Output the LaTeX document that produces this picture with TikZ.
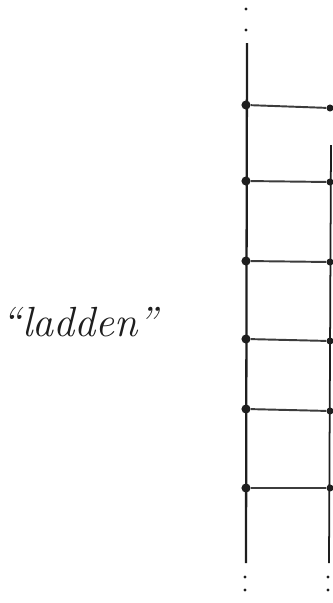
\documentclass[tikz,border=0pt]{standalone}
\usetikzlibrary{positioning}
\definecolor{pencil}{RGB}{30,30,30}
\definecolor{pencilgray}{RGB}{60,60,60}
\tikzset{
  knotL/.style={circle,fill=pencil,inner sep=0pt,minimum size=5.2pt},
  knotR/.style={circle,fill=pencil,inner sep=0pt,minimum size=4pt},
  speck/.style={circle,fill=pencil,inner sep=0pt,minimum size=1.8pt},
  rail/.style={draw=pencil,line width=1.3pt},
  rung/.style={draw=pencilgray,line width=1.1pt}
}

\begin{document}
\begin{tikzpicture}[x=0.02cm,y=-0.02cm]
  \useasboundingbox (0,0) rectangle (333,603);

  % rails
  \coordinate (railLtop) at (247,43);
  \coordinate (railLbot) at (246,563);
  \coordinate (railRtop) at (331,145);
  \coordinate (railRbot) at (329,563);
  \draw[rail] (railLtop) -- (railLbot);
  \draw[rail,line width=1pt] (railRtop) -- (railRbot);

  % rungs
  \foreach \i/\yl/\yr in {1/105/108,2/181/182,3/261/262,4/339/341,5/409/411,6/488/488}{
    \node[knotL] (l\i) at (246,\yl) {};
    \node[knotR] (r\i) at (330,\yr) {};
    \draw[rung] (l\i) -- (r\i);
  }

  % trailing dots
  \node[speck] (dotT1) at (246,9) {};
  \node[speck] (dotT2) at (246,30) {};
  \node[speck] (dotLB1) at (245,577) {};
  \node[speck] (dotLB2) at (245,590) {};
  \node[speck] (dotRB1) at (328,577) {};
  \node[speck] (dotRB2) at (328,590) {};

  \node[text=pencil,font=\fontsize{24}{29}\selectfont\itshape]
    (label) at (80,322) {``ladden''};
\end{tikzpicture}
\end{document}
